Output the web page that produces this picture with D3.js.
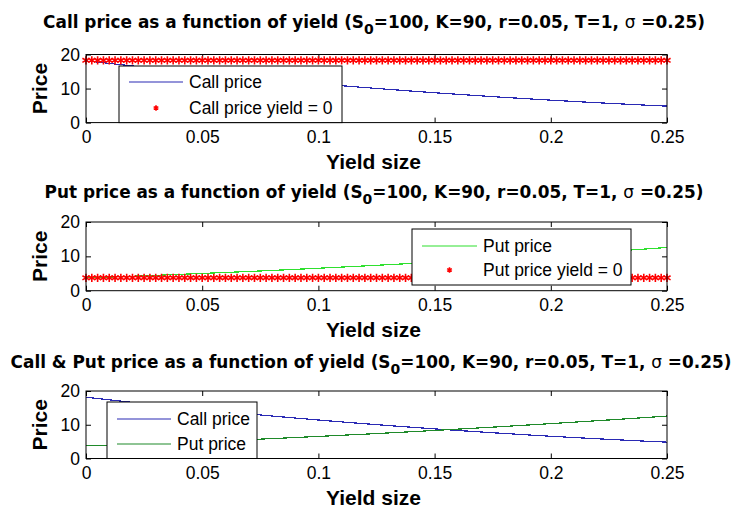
<!DOCTYPE html>
<html>
<head>
<meta charset="utf-8">
<script src="https://cdn.jsdelivr.net/npm/d3@7"></script>
<style>
body{margin:0;background:#ffffff;}
text{font-family:"Liberation Sans",Arial,sans-serif;}
</style>
</head>
<body>
<svg id="chart" width="740" height="507"></svg>
<script>

var yieldSteps=[0,0.0125,0.025,0.0375,0.05,0.0625,0.075,0.0875,0.1,0.1125,0.125,0.1375,0.15,0.1625,0.175,0.1875,0.2,0.2125,0.225,0.2375,0.25];
var callPrice=[18.14,17.19,16.27,15.38,14.53,13.70,12.91,12.14,11.41,10.70,10.03,9.39,8.77,8.19,7.63,7.10,6.59,6.12,5.67,5.24,4.84];
var putPrice=[3.75,4.04,4.35,4.68,5.02,5.37,5.74,6.13,6.54,6.96,7.39,7.84,8.31,8.80,9.29,9.81,10.33,10.87,11.42,11.99,12.57];

var markerYields=[0,0.0025,0.005,0.0075,0.01,0.0125,0.015,0.0175,0.02,0.0225,0.025,0.0275,0.03,0.0325,0.035,0.0375,0.04,0.0425,0.045,0.0475,0.05,0.0525,0.055,0.0575,0.06,0.0625,0.065,0.0675,0.07,0.0725,0.075,0.0775,0.08,0.0825,0.085,0.0875,0.09,0.0925,0.095,0.0975,0.1,0.1025,0.105,0.1075,0.11,0.1125,0.115,0.1175,0.12,0.1225,0.125,0.1275,0.13,0.1325,0.135,0.1375,0.14,0.1425,0.145,0.1475,0.15,0.1525,0.155,0.1575,0.16,0.1625,0.165,0.1675,0.17,0.1725,0.175,0.1775,0.18,0.1825,0.185,0.1875,0.19,0.1925,0.195,0.1975,0.2,0.2025,0.205,0.2075,0.21,0.2125,0.215,0.2175,0.22,0.2225,0.225,0.2275,0.23,0.2325,0.235,0.2375,0.24,0.2425,0.245,0.2475,0.25];
var callYieldZero=18.3;
var putYieldZero=3.75;

var xTicks=[0,0.05,0.1,0.15,0.2,0.25];
var yTicks=[0,10,20];
var titlePrefixes=["Call price as a function of yield","Put price as a function of yield","Call & Put price as a function of yield"];
var legendCall=["Call price","Call price yield = 0"];
var legendPut=["Put price","Put price yield = 0"];
var legendBoth=["Call price","Put price"];

var svg=d3.select("#chart");
var left=86, right=667;
var x=d3.scaleLinear().domain([0,0.25]).range([left,right]);

var panels=[
    {top:54.5, bottom:122.6, titleY:28, titleX:374},
    {top:222, bottom:290.7, titleY:198, titleX:374},
    {top:391, bottom:458.5, titleY:367.5, titleX:371}
];

var blue="#2a2ab4", green="#2fe02f", darkGreen="#1f8a2a", red="#ff0000";

var starSymbol=d3.symbol().type(d3.symbolAsterisk).size(48);
var legendStar=d3.symbol().type(d3.symbolAsterisk).size(20);

function drawFrame(p){
    var y=d3.scaleLinear().domain([0,20]).range([p.bottom,p.top]);
    p.y=y;

    var g=svg.append("g");
    g.append("g").attr("transform","translate(0,"+p.bottom+")")
        .call(d3.axisBottom(x).tickValues(xTicks).tickSizeInner(-5).tickSizeOuter(0).tickPadding(8)
              .tickFormat(function(d){return String(d);}));
    g.append("g").attr("transform","translate(0,"+p.top+")")
        .call(d3.axisTop(x).tickValues(xTicks).tickSizeInner(-5).tickSizeOuter(0).tickFormat(""));
    g.append("g").attr("transform","translate("+left+",0)")
        .call(d3.axisLeft(y).tickValues(yTicks).tickSizeInner(-5).tickSizeOuter(0).tickPadding(6));
    g.append("g").attr("transform","translate("+right+",0)")
        .call(d3.axisRight(y).tickValues(yTicks).tickSizeInner(-5).tickSizeOuter(0).tickFormat(""));

    g.selectAll(".domain").remove();
    g.selectAll(".tick line").attr("stroke","#000000");
    g.selectAll(".tick text")
        .style("font-family","'Liberation Sans',Arial,sans-serif")
        .style("font-size","17.5px")
        .style("fill","#000000");

    // title with subscript
    var t=svg.append("text")
        .attr("x",p.titleX)
        .attr("y",p.titleY)
        .style("font-family","'DejaVu Sans',sans-serif")
        .style("font-size","16.9px")
        .style("font-weight","bold")
        .style("text-anchor","middle");
    t.append("tspan").text(p.title+" (S");
    t.append("tspan").attr("dy",6).style("font-size","14px").text("0");
    t.append("tspan").attr("dy",-6).text("=100, K=90, r=0.05, T=1, ");
    t.append("tspan").style("font-weight","normal").text("\u03c3");
    t.append("tspan").text(" =0.25)");

    svg.append("text")
        .attr("x",(left+right)/2-3)
        .attr("y",p.bottom+46)
        .style("font-size","21px")
        .style("font-weight","bold")
        .style("text-anchor","middle")
        .text("Yield size");

    svg.append("text")
        .attr("transform","translate(47,"+((p.top+p.bottom)/2)+") rotate(-90)")
        .style("font-size","21px")
        .style("font-weight","bold")
        .style("text-anchor","middle")
        .text("Price");
}

function drawLine(p,values,color){
    var line=d3.line()
        .x(function(d,i){return x(yieldSteps[i]);})
        .y(function(d){return p.y(d);});
    svg.append("path")
        .datum(values)
        .attr("d",line)
        .attr("fill","none")
        .attr("stroke",color)
        .attr("stroke-width",1.2)
        .attr("shape-rendering","crispEdges");
}

function drawMarkers(p,value){
    svg.append("g").selectAll("path")
        .data(markerYields)
        .enter()
        .append("path")
        .attr("d",starSymbol)
        .attr("transform",function(d){return "translate("+x(d)+","+p.y(value)+")";})
        .attr("fill","none")
        .attr("stroke",red)
        .attr("stroke-width",1.6);
}

function drawBox(p){
    svg.append("rect")
        .attr("x",left)
        .attr("y",p.top)
        .attr("width",right-left)
        .attr("height",p.bottom-p.top)
        .attr("fill","none")
        .attr("stroke","#000000")
        .attr("stroke-width",1);
}

function drawLegend(box,items){
    var g=svg.append("g");
    g.append("rect")
        .attr("x",box.x).attr("y",box.y)
        .attr("width",box.w).attr("height",box.h)
        .attr("fill","#ffffff")
        .attr("stroke","#000000")
        .attr("stroke-width",1);
    items.forEach(function(it,i){
        var yy=box.y+box.first+i*box.gap;
        if(it.type=="line"){
            g.append("line")
                .attr("x1",box.x+10).attr("x2",box.x+box.lineLen+10)
                .attr("y1",yy).attr("y2",yy)
                .attr("stroke",it.color)
                .attr("stroke-width",1.2);
        }else{
            g.append("path")
                .attr("d",legendStar)
                .attr("transform","translate("+(box.x+10+box.lineLen/2)+","+yy+")")
                .attr("fill","none")
                .attr("stroke",red)
                .attr("stroke-width",1.6);
        }
        g.append("text")
            .attr("x",box.x+box.lineLen+16)
            .attr("y",yy)
            .attr("dy","0.35em")
            .style("font-size","17.5px")
            .text(it.label);
    });
}

panels.forEach(function(p,i){ p.title=titlePrefixes[i]; drawFrame(p); });

// panel 1
drawLine(panels[0],callPrice,blue);
drawMarkers(panels[0],callYieldZero);
drawBox(panels[0]);
drawLegend({x:119,y:66,w:223,h:56.6,first:16,gap:26,lineLen:54},
    [{type:"line",color:blue,label:legendCall[0]},{type:"marker",label:legendCall[1]}]);

// panel 2
drawLine(panels[1],putPrice,green);
drawMarkers(panels[1],putYieldZero);
drawBox(panels[1]);
drawLegend({x:412,y:229,w:219,h:56,first:17,gap:24,lineLen:55},
    [{type:"line",color:green,label:legendPut[0]},{type:"marker",label:legendPut[1]}]);

// panel 3
drawLine(panels[2],callPrice,blue);
drawLine(panels[2],putPrice,darkGreen);
drawBox(panels[2]);
drawLegend({x:107,y:402,w:150,h:56.5,first:17,gap:25,lineLen:54},
    [{type:"line",color:blue,label:legendBoth[0]},{type:"line",color:darkGreen,label:legendBoth[1]}]);

</script>
</body>
</html>
